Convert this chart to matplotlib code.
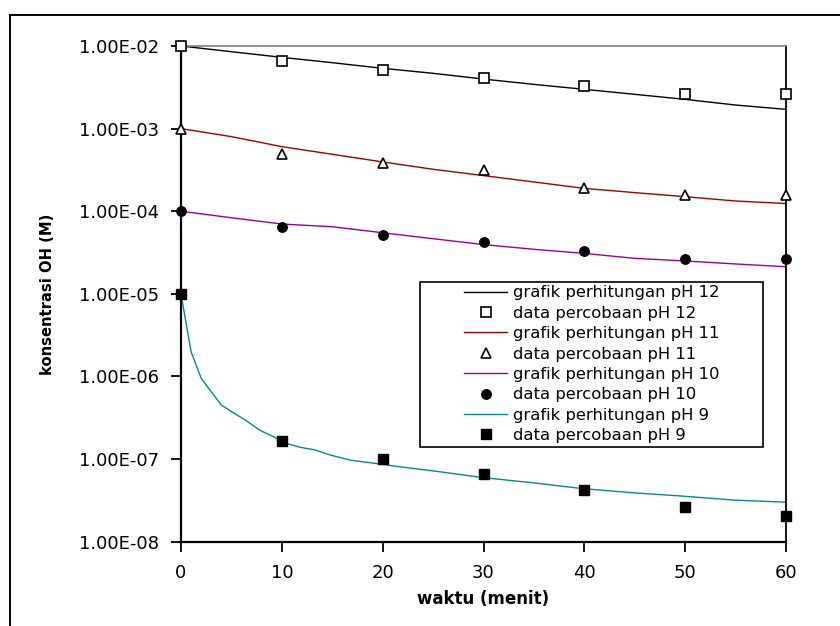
import matplotlib
matplotlib.use("Agg")
import matplotlib.pyplot as plt
from matplotlib.ticker import FuncFormatter, NullLocator
from matplotlib.patches import Rectangle

# data
t_data = [0, 10, 20, 30, 40, 50, 60]
data_ph12 = [1.0e-2, 6.64e-3, 5.16e-3, 4.06e-3, 3.31e-3, 2.60e-3, 2.60e-3]
data_ph11 = [1.0e-3, 4.98e-4, 3.87e-4, 3.16e-4, 1.93e-4, 1.59e-4, 1.59e-4]
data_ph10 = [1.0e-4, 6.49e-5, 5.11e-5, 4.20e-5, 3.27e-5, 2.64e-5, 2.64e-5]
data_ph9 = [1.0e-5, 1.67e-7, 1.01e-7, 6.53e-8, 4.18e-8, 2.65e-8, 2.06e-8]

t_calc = [0, 5, 10, 15, 20, 25, 30, 35, 40, 45, 50, 55, 60]
calc_ph12 = [1.0e-2, 8.53e-3, 7.29e-3, 6.28e-3, 5.37e-3, 4.67e-3, 3.98e-3,
             3.43e-3, 2.99e-3, 2.60e-3, 2.26e-3, 1.93e-3, 1.71e-3]
calc_ph11 = [1.0e-3, 8.0e-4, 6.05e-4, 4.89e-4, 3.95e-4, 3.22e-4, 2.70e-4,
             2.26e-4, 1.89e-4, 1.68e-4, 1.50e-4, 1.33e-4, 1.24e-4]
calc_ph10 = [1.0e-4, 8.34e-5, 7.0e-5, 6.49e-5, 5.49e-5, 4.65e-5, 3.95e-5,
             3.46e-5, 3.09e-5, 2.69e-5, 2.50e-5, 2.30e-5, 2.13e-5]

t_calc9 = [0, 1, 2, 3, 4, 5.2, 6.4, 7.8, 9.3, 10.3, 11.8, 13.3, 14.8, 16.8,
           19.8, 21.7, 25, 29.8, 34.9, 39.7, 44.8, 49.8, 54.8, 60]
calc_ph9 = [1.0e-5, 1.99e-6, 9.5e-7, 6.53e-7, 4.51e-7, 3.63e-7, 2.96e-7, 2.24e-7,
            1.83e-7, 1.57e-7, 1.39e-7, 1.29e-7, 1.12e-7, 9.7e-8, 8.7e-8, 8.07e-8,
            7.2e-8, 6.0e-8, 5.16e-8, 4.41e-8, 3.91e-8, 3.56e-8, 3.19e-8, 3.01e-8]

yticks = [1e-8, 1e-7, 1e-6, 1e-5, 1e-4, 1e-3, 1e-2]

fig = plt.figure(figsize=(8.4, 6.26), dpi=100)
ax = fig.add_axes([181/840, 1-541.7/626, 605/840, 495.7/626])

ax.plot(t_calc, calc_ph12, color="black", lw=1.0, label="grafik perhitungan pH 12")
ax.plot(t_data, data_ph12, ls="none", marker="s", ms=6.5, mfc="white", mec="black",
        mew=1.2, clip_on=False, zorder=5, label="data percobaan pH 12")
ax.plot(t_calc, calc_ph11, color="#a00000", lw=1.0, label="grafik perhitungan pH 11")
ax.plot(t_data, data_ph11, ls="none", marker="^", ms=7, mfc="white", mec="black",
        mew=1.2, clip_on=False, zorder=5, label="data percobaan pH 11")
ax.plot(t_calc, calc_ph10, color="#990099", lw=1.0, label="grafik perhitungan pH 10")
ax.plot(t_data, data_ph10, ls="none", marker="o", ms=6.8, mfc="black", mec="black",
        clip_on=False, zorder=5, label="data percobaan pH 10")
ax.plot(t_calc9, calc_ph9, color="#008b8b", lw=1.0, label="grafik perhitungan pH 9")
ax.plot(t_data, data_ph9, ls="none", marker="s", ms=7.5, mfc="black", mec="black",
        clip_on=False, zorder=5, label="data percobaan pH 9")

ax.set_yscale("log")
ax.set_xlim(0, 60)
ax.set_ylim(1e-8, 1e-2)
ax.set_xticks(range(0, 61, 10))
ax.set_yticks(yticks)
ax.yaxis.set_minor_locator(NullLocator())
ax.yaxis.set_major_formatter(FuncFormatter(lambda v, p: f"{v:.2E}"))
ax.tick_params(direction="out", length=7, width=1.3, labelsize=13, pad=9)

for side in ["left", "bottom"]:
    ax.spines[side].set_linewidth(1.6)
ax.spines["right"].set_linewidth(1.3)
ax.spines["top"].set_linewidth(1.2)
ax.spines["top"].set_color("#808080")

ax.set_xlabel("waktu (menit)", fontsize=12, fontweight="bold")
ax.set_ylabel("konsentrasi OH (M)", fontsize=10.6, fontweight="bold")
ax.xaxis.set_label_coords(0.5, -0.097)
ax.yaxis.set_label_coords(-0.208, 0.5)

leg = ax.legend(loc="center", bbox_to_anchor=(0.679, 0.358), frameon=False,
                fontsize=11.8, handlelength=2.6, handletextpad=0.35,
                labelspacing=0.33, borderpad=0)

# legend box with wide side padding, like the original
fig.canvas.draw()
bb = leg.get_window_extent().transformed(fig.transFigure.inverted())
padx, pady = 44/840, 3.5/626
fig.add_artist(Rectangle((bb.x0 - padx, bb.y0 - pady), bb.width + 2*padx,
                         bb.height + 2*pady, transform=fig.transFigure,
                         fill=False, lw=1.2, ec="black"))

# outer border around the whole chart
fig.add_artist(Rectangle((10/840, -0.05), 1.1, 1.026, transform=fig.transFigure,
                         fill=False, lw=1.4, ec="black"))

fig.savefig("out.png", dpi=100)
